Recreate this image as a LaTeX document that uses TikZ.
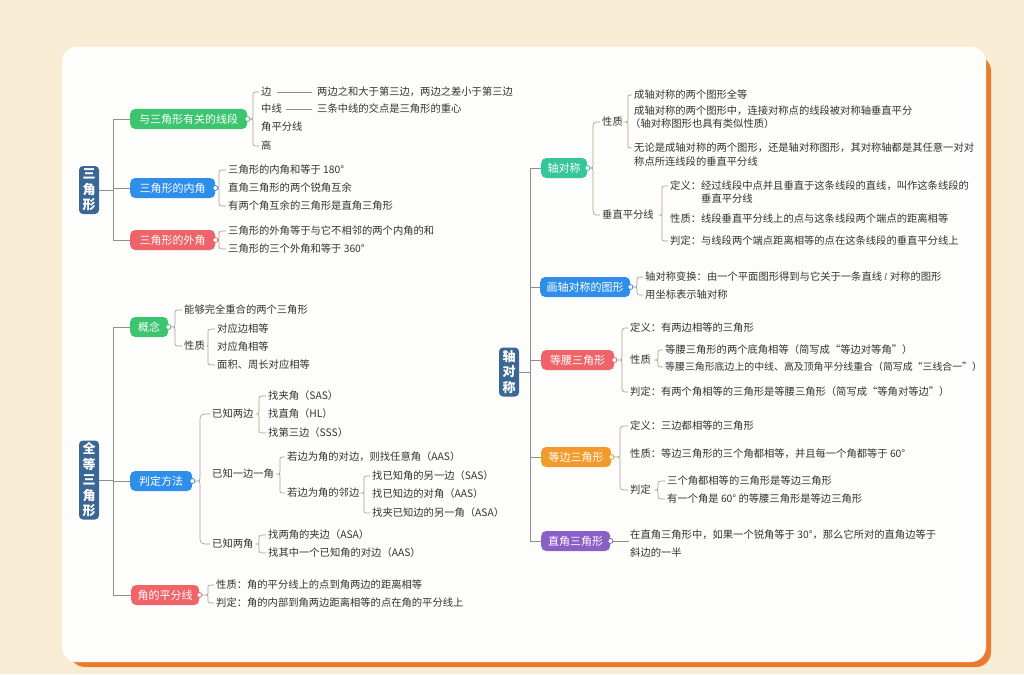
\documentclass[tikz,border=0pt]{standalone}
\usepackage{fontspec}
\newfontfamily\cjk{Noto Sans CJK SC}
\usetikzlibrary{calc}
\definecolor{bgc}{HTML}{F8EDD4}
\definecolor{orng}{HTML}{EA7A2E}
\definecolor{panel}{HTML}{FDFDFC}
\definecolor{cgreen}{HTML}{3CC46F}
\definecolor{cblue}{HTML}{2F8EEA}
\definecolor{cred}{HTML}{EE6468}
\definecolor{cteal}{HTML}{35C79B}
\definecolor{corange}{HTML}{F39A2C}
\definecolor{cpurple}{HTML}{8A60C6}
\definecolor{croot}{HTML}{3A6793}
\definecolor{txt}{HTML}{333333}
\definecolor{lngray}{HTML}{8E8E8E}
\definecolor{brgray}{HTML}{ABA18E}
\tikzset{
  conn/.style={draw=lngray, line width=0.8pt},
  bline/.style={draw=brgray, line width=0.7pt},
  mbox/.style={rounded corners=5pt, fill=#1, text=white, minimum height=20pt,
    inner sep=0pt, anchor=west, font=\cjk\fontsize{11}{13}\selectfont},
  rootbox/.style={rounded corners=4pt, fill=croot, text=white, minimum width=20pt,
    inner sep=0pt, align=center, font=\cjk\bfseries\fontsize{13}{15.5}\selectfont},
  leaf/.style={anchor=west, inner sep=1pt, text=txt, font=\cjk\fontsize{10.3}{18}\selectfont},
  dot/.style={circle, fill=white, draw=#1, line width=0.8pt, inner sep=0pt, minimum size=5pt},
}
% brace: [radius]{x}{tip}{top child}{bottom child}
\newcommand{\brc}[5][4]{%
  \draw[bline] let \p1=(#3), \p2=(#4), \p3=(#5) in
   (\x2-1pt,\y2) .. controls (#2pt,\y2) .. (#2pt,\y2-#1pt)
   -- (#2pt,\y1+3pt) .. controls (#2pt,\y1) .. (\x1,\y1)
   .. controls (#2pt,\y1) .. (#2pt,\y1-3pt)
   -- (#2pt,\y3+#1pt) .. controls (#2pt,\y3) .. (\x3-1pt,\y3);}
\begin{document}
\begin{tikzpicture}[x=1pt,y=-1pt]
\useasboundingbox (0,0) rectangle (1024,674);
\fill[bgc] (0,0) rectangle (1024,674);
\fill[orng, rounded corners=15pt] (70,56) rectangle (991,667);
\fill[panel, rounded corners=15pt] (62,47) rectangle (986,662);

\coordinate (tx1) at (113,0);
\coordinate (tx3) at (530,0);

% ---------- Tree 1: 三角形 ----------
\node[rootbox, minimum height=48pt] (r1) at (89,190) {三\\角\\形};
\node[mbox=cgreen, minimum width=117pt] (b1) at (130,119) {与三角形有关的线段};
\node[mbox=cblue, minimum width=85pt] (b2) at (130,188) {三角形的内角};
\node[mbox=cred, minimum width=85pt] (b3) at (130,240) {三角形的外角};
\draw[conn] (r1.east) -- (r1.east -| tx1);
\draw[conn] (b1.west) -- (b1.west -| tx1) -- (b3.west -| tx1) -- (b3.west);
\draw[conn] (b2.west) -- (b2.west -| tx1);

\node[leaf] (l1a) at (260,92) {边};
\node[leaf] (l1b) at (260,109) {中线};
\node[leaf] (l1c) at (260,127) {角平分线};
\node[leaf] (l1d) at (260,146) {高};
\node[leaf] (t1a) at (316,92) {两边之和大于第三边，两边之差小于第三边};
\node[leaf] (t1b) at (316,109) {三条中线的交点是三角形的重心};
\draw[conn, line width=0.6pt] ([xshift=4pt]l1a.east) -- ([xshift=-4pt]t1a.west);
\draw[conn, line width=0.6pt] ([xshift=3pt]l1b.east) -- ([xshift=-4pt]t1b.west);
\brc{253}{[xshift=2.5pt]b1.east}{l1a.west}{l1d.west}

\node[leaf] (l2a) at (227,170) {三角形的内角和等于 180°};
\node[leaf] (l2b) at (227,188) {直角三角形的两个锐角互余};
\node[leaf] (l2c) at (227,206) {有两个角互余的三角形是直角三角形};
\brc{219}{[xshift=2.5pt]b2.east}{l2a.west}{l2c.west}

\node[leaf] (l3a) at (227,231) {三角形的外角等于与它不相邻的两个内角的和};
\node[leaf] (l3b) at (227,249) {三角形的三个外角和等于 360°};
\brc{219}{[xshift=2.5pt]b3.east}{l3a.west}{l3b.west}

% ---------- Tree 2: 全等三角形 ----------
\node[rootbox, minimum height=79pt] (r2) at (89,480) {全\\等\\三\\角\\形};
\node[mbox=cgreen, minimum width=38pt] (c1) at (130,327) {概念};
\node[mbox=cblue, minimum width=62pt] (c2) at (130,481) {判定方法};
\node[mbox=cred, minimum width=68pt] (c3) at (131,595) {角的平分线};
\draw[conn] (r2.east) -- (r2.east -| tx1);
\draw[conn] (c1.west) -- (c1.west -| tx1) -- (c3.west -| tx1) -- (c3.west);
\draw[conn] (c2.west) -- (c2.west -| tx1);

\node[leaf] (m1) at (183,310) {能够完全重合的两个三角形};
\node[leaf] (m2) at (183,346) {性质};
\node[leaf] (m2a) at (216,329) {对应边相等};
\node[leaf] (m2b) at (216,347) {对应角相等};
\node[leaf] (m2c) at (216,365) {面积、周长对应相等};
\brc{175}{[xshift=2.5pt]c1.east}{m1.west}{m2.west}
\brc{208}{[xshift=1pt]m2.east}{m2a.west}{m2c.west}

\node[leaf] (p1) at (211,414) {已知两边};
\node[leaf] (p2) at (211,474) {已知一边一角};
\node[leaf] (p4) at (211,544) {已知两角};
\brc[9]{200}{[xshift=2.5pt]c2.east}{p1.west}{p4.west}
\node[leaf] (p1a) at (267,396) {找夹角（SAS）};
\node[leaf] (p1b) at (267,414) {找直角（HL）};
\node[leaf] (p1c) at (267,433) {找第三边（SSS）};
\brc{259}{[xshift=1pt]p1.east}{p1a.west}{p1c.west}
\node[leaf] (p2a) at (286,457) {若边为角的对边，则找任意角（AAS）};
\node[leaf] (p3) at (286,493) {若边为角的邻边};
\brc{280}{[xshift=1pt]p2.east}{p2a.west}{p3.west}
\node[leaf] (p3a) at (371,476) {找已知角的另一边（SAS）};
\node[leaf] (p3b) at (371,494) {找已知边的对角（AAS）};
\node[leaf] (p3c) at (371,513) {找夹已知边的另一角（ASA）};
\brc{364}{[xshift=1pt]p3.east}{p3a.west}{p3c.west}
\node[leaf] (p4a) at (267,535) {找两角的夹边（ASA）};
\node[leaf] (p4b) at (267,553) {找其中一个已知角的对边（AAS）};
\brc{259}{[xshift=1pt]p4.east}{p4a.west}{p4b.west}

\node[leaf] (v1) at (215,585) {性质：角的平分线上的点到角两边的距离相等};
\node[leaf] (v2) at (215,603) {判定：角的内部到角两边距离相等的点在角的平分线上};
\brc{208}{[xshift=2.5pt]c3.east}{v1.west}{v2.west}

% ---------- Tree 3: 轴对称 ----------
\node[rootbox, minimum height=49pt] (r3) at (509,372) {轴\\对\\称};
\node[mbox=cteal, minimum width=46pt] (d1) at (541,168) {轴对称};
\node[mbox=cblue, minimum width=90pt] (d2) at (540,287) {画轴对称的图形};
\node[mbox=cred, minimum width=73pt] (d3) at (541,360) {等腰三角形};
\node[mbox=corange, minimum width=70pt] (d4) at (541,457) {等边三角形};
\node[mbox=cpurple, minimum width=69pt] (d5) at (541,541) {直角三角形};
\draw[conn] (r3.east) -- (r3.east -| tx3);
\draw[conn] (d1.west) -- (d1.west -| tx3) -- (d5.west -| tx3) -- (d5.west);
\foreach \n in {d2,d3,d4} \draw[conn] (\n.west) -- (\n.west -| tx3);

\node[leaf] (q1) at (601,122) {性质};
\node[leaf] (q2) at (601,215) {垂直平分线};
\brc[8]{593}{[xshift=2.5pt]d1.east}{q1.west}{q2.west}
\node[leaf] (q1a) at (633,95) {成轴对称的两个图形全等};
\node[leaf] (q1b) at (633,111) {成轴对称的两个图形中，连接对称点的线段被对称轴垂直平分};
\node[leaf] (q1c) at (629,124) {（轴对称图形也具有类似性质）};
\node[leaf] (q1d) at (633,148) {无论是成轴对称的两个图形，还是轴对称图形，其对称轴都是其任意一对对};
\node[leaf] (q1e) at (633,162) {称点所连线段的垂直平分线};
\brc{628}{[xshift=1pt]q1.east}{q1a.west}{q1d.west}
\node[leaf] (q2a) at (669,186) {定义：经过线段中点并且垂直于这条线段的直线，叫作这条线段的};
\node[leaf] (q2b) at (700,199) {垂直平分线};
\node[leaf] (q2c) at (669,219) {性质：线段垂直平分线上的点与这条线段两个端点的距离相等};
\node[leaf] (q2d) at (669,241) {判定：与线段两个端点距离相等的点在这条线段的垂直平分线上};
\brc{662}{[xshift=5pt]q2.east}{q2a.west}{q2d.west}

\node[leaf] (w1) at (644,277) {轴对称变换：由一个平面图形得到与它关于一条直线 $l$ 对称的图形};
\node[leaf] (w2) at (644,295) {用坐标表示轴对称};
\brc{637}{[xshift=2.5pt]d2.east}{w1.west}{w2.west}

\node[leaf] (x1) at (629,328) {定义：有两边相等的三角形};
\node[leaf] (x2) at (629,360) {性质};
\node[leaf] (x3) at (629,392) {判定：有两个角相等的三角形是等腰三角形（简写成“等角对等边”）};
\brc[7]{622}{[xshift=2.5pt]d3.east}{x1.west}{x3.west}
\node[leaf] (x2a) at (664,350) {等腰三角形的两个底角相等（简写成“等边对等角”）};
\node[leaf, font=\cjk\fontsize{9.9}{12}\selectfont] (x2b) at (664,367) {等腰三角形底边上的中线、高及顶角平分线重合（简写成“三线合一”）};
\brc{658}{[xshift=2pt]x2.east}{x2a.west}{x2b.west}

\node[leaf] (y1) at (629,426) {定义：三边都相等的三角形};
\node[leaf] (y2) at (629,454) {性质：等边三角形的三个角都相等，并且每一个角都等于 60°};
\node[leaf] (y3) at (629,490) {判定};
\brc[7]{620}{[xshift=2.5pt]d4.east}{y1.west}{y3.west}
\node[leaf] (y3a) at (666,481) {三个角都相等的三角形是等边三角形};
\node[leaf] (y3b) at (666,499) {有一个角是 60° 的等腰三角形是等边三角形};
\brc{658}{[xshift=2pt]y3.east}{y3a.west}{y3b.west}

\node[leaf, align=left] (u1) at (629,544) {在直角三角形中，如果一个锐角等于 30°，那么它所对的直角边等于\\斜边的一半};
\draw[conn, line width=0.6pt] ([xshift=2.5pt]d5.east) -- (d5.east -| u1.west);

% connector dots
\foreach \n/\c in {b1/cgreen,b2/cblue,b3/cred,c1/cgreen,c2/cblue,c3/cred,
  d1/cteal,d2/cblue,d3/cred,d4/corange,d5/cpurple}
  \node[dot=\c] at (\n.east) {};
\end{tikzpicture}
\end{document}
